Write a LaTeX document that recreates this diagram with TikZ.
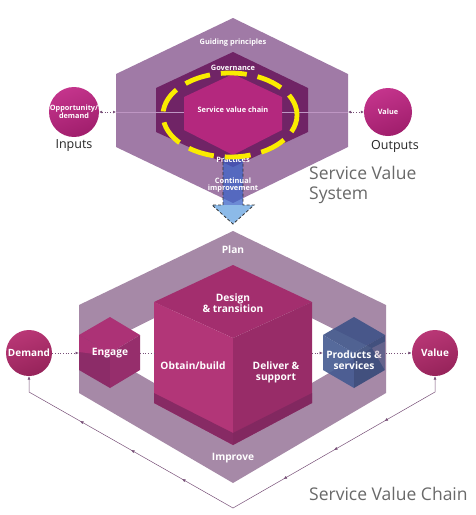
\documentclass[tikz,border=0pt]{standalone}
\usepackage{fontspec}
\setmainfont{Open Sans}
\usetikzlibrary{arrows.meta,decorations.markings}
\definecolor{hexOut}{RGB}{160,122,166}
\definecolor{hexMid}{RGB}{112,36,102}
\definecolor{hexIn}{RGB}{180,40,126}
\definecolor{circA}{RGB}{196,52,140}
\definecolor{circB}{RGB}{160,30,108}
\definecolor{circC}{RGB}{185,55,118}
\definecolor{circD}{RGB}{150,35,90}
\definecolor{ringC}{RGB}{166,137,167}
\definecolor{cubeTop}{RGB}{163,46,110}
\definecolor{cubeLeft}{RGB}{178,54,120}
\definecolor{cubeRight}{RGB}{152,44,104}
\definecolor{cubeBand}{RGB}{125,40,95}
\definecolor{engTop}{RGB}{172,50,118}
\definecolor{engLeft}{RGB}{140,44,104}
\definecolor{engRight}{RGB}{150,46,108}
\definecolor{prTop}{RGB}{62,82,135}
\definecolor{prLeft}{RGB}{68,90,145}
\definecolor{prRight}{RGB}{56,74,122}
\definecolor{shaftC}{RGB}{60,100,200}
\definecolor{headC}{RGB}{140,186,232}
\definecolor{yel}{RGB}{250,236,0}
\definecolor{conn}{RGB}{120,80,120}
\definecolor{greyT}{RGB}{105,105,105}
\definecolor{lineC}{RGB}{190,150,195}
\begin{document}
\begin{tikzpicture}[x=1pt,y=-1pt,
  lbl/.style={text=white,font=\bfseries\fontsize{10.2}{11}\selectfont,align=center,inner sep=0},
  slbl/.style={text=white,font=\bfseries\fontsize{7.4}{7.8}\selectfont,align=center,inner sep=0},
  tcirc/.style={circle,minimum size=48pt,inner sep=0,top color=circA,bottom color=circB,shading angle=20,
     text=white,font=\bfseries\fontsize{7.3}{7.8}\selectfont,align=center},
  bcirc/.style={circle,minimum size=46pt,inner sep=0,top color=circC,bottom color=circD,shading angle=20,
     text=white,font=\bfseries\fontsize{10}{11}\selectfont,align=center},
  io/.style={text=black!85,font=\fontsize{12.5}{13}\selectfont,inner sep=0},
  big/.style={text=greyT,font=\fontsize{17.5}{20}\selectfont,align=left,inner sep=0},
  dots/.style={conn,dotted,line width=0.7pt},
  tip/.style={-{Latex[length=3.5pt,width=3pt]}},
  fb/.style={conn,line width=0.5pt},
  marks/.style={postaction=decorate,decoration={markings,
     mark=at position 0.25 with {\arrow{Latex[length=3.5pt,width=3pt]}},
     mark=at position 0.5 with {\arrow{Latex[length=3.5pt,width=3pt]}},
     mark=at position 0.75 with {\arrow{Latex[length=3.5pt,width=3pt]}}}}
]
\useasboundingbox (0,0) rectangle (475,515);
\fill[white] (0,0) rectangle (475,515);

% ===== Service Value System =====
\fill[hexOut] (233,18) -- (348,74) -- (348,147) -- (233,203) -- (116,147) -- (116,74) -- cycle;
\fill[hexMid] (233,52) -- (308,88) -- (308,132) -- (233,167) -- (156,132) -- (156,88) -- cycle;
\fill[hexIn] (233,74) -- (282,97) -- (282,130) -- (233,155) -- (184,130) -- (184,97) -- cycle;
\coordinate (hexL) at (116,112);
\coordinate (hexR) at (348,112);
\draw[lineC,line width=0.8pt] (hexL) -- (184,112);
\draw[lineC,line width=0.8pt] (282,112) -- (hexR);

% blue arrow
\fill[shaftC,fill opacity=0.75] (223,157) rectangle (243,205);
\fill[headC] (212,205) -- (233,224) -- (254,205) -- cycle;
\draw[black!80,line width=0.8pt,dash pattern=on 3pt off 2pt] (223,157) -- (223,205) -- (212,205) -- (233,224) -- (254,205) -- (243,205) -- (243,157);

\node[slbl] (gp) at (233,43) {Guiding principles};
\node[slbl] (gov) at (233,68) {Governance};
\node[slbl] (svc) at (233,110) {Service value chain};
\node[slbl] (pr) at (233,160) {Practices};
\node[slbl,font=\bfseries\fontsize{7.4}{7.2}\selectfont] (ci) at (233,185) {Continual\\improvement};

% yellow ellipse
\draw[yel,line width=4.8pt,dash pattern=on 26pt off 11pt,dash phase=8pt] (230,115) ellipse [x radius=67, y radius=42];

\node[tcirc] (opp) at (74,112) {Opportunity/\\demand};
\node[tcirc] (val1) at (388,112) {Value};
\draw[dots,{Latex[length=3pt,width=3pt]}-{Latex[length=3pt,width=3pt]}] (opp.east) -- (hexL);
\draw[dots,{Latex[length=3pt,width=3pt]}-{Latex[length=3pt,width=3pt]}] (hexR) -- (val1.west);
\node[io] (inp) at (74,146) {Inputs};
\node[io] (outp) at (395,146) {Outputs};
\node[big,anchor=north west] (svs) at (309,166) {Service Value\\System};

% ===== Service Value Chain =====
\fill[ringC,even odd rule] (233,231) -- (386,305) -- (386,393) -- (233,483) -- (79,393) -- (79,305) -- cycle
   (233,279) -- (372,348) -- (233,429) -- (94,348) -- cycle;

% feedback loop
\node[bcirc] (dem) at (29,353) {Demand};
\node[bcirc] (val2) at (435,353) {Value};
\coordinate (vb) at (435,392);
\coordinate (bt) at (233,508);
\coordinate (db) at (29,392);
\draw[fb,{Latex[length=3.5pt,width=3pt]}-{Latex[length=3.5pt,width=3pt]}] (val2.south) -- (vb) -- (bt) -- (db) -- (dem.south);
\path[fb,marks] (vb) -- (bt);
\path[fb,marks] (bt) -- (db);

% big cube
\fill[cubeTop] (233,265) -- (312,302) -- (233,338) -- (154,302) -- cycle;
\fill[cubeLeft] (154,302) -- (233,338) -- (233,445) -- (154,403) -- cycle;
\fill[cubeRight] (233,338) -- (312,302) -- (312,403) -- (233,445) -- cycle;
\fill[cubeBand,fill opacity=0.8] (154,393) -- (233,433) -- (312,393) -- (312,403) -- (233,445) -- (154,403) -- cycle;

% engage cube
\fill[engTop] (110,317) -- (140,335) -- (110,353) -- (79,335) -- cycle;
\fill[engLeft] (79,335) -- (110,353) -- (110,388) -- (79,370) -- cycle;
\fill[engRight] (110,353) -- (140,335) -- (140,370) -- (110,388) -- cycle;
\fill[engTop] (79,335) -- (110,353) -- (110,356) -- (79,352) -- cycle;
% products cube
\begin{scope}[fill opacity=0.9]
\fill[prTop] (354,317) -- (385,335) -- (354,353) -- (323,335) -- cycle;
\fill[prLeft] (323,335) -- (354,353) -- (354,388) -- (323,370) -- cycle;
\fill[prRight] (354,353) -- (385,335) -- (385,370) -- (354,388) -- cycle;
\end{scope}

\coordinate (engL) at (79,353);
\coordinate (engR) at (140,353);
\coordinate (cubL) at (154,353);
\coordinate (cubR) at (312,353);
\coordinate (prL) at (323,353);
\coordinate (prR) at (386,353);
\draw[dots,tip] (dem.east) -- (engL);
\draw[dots] (engR) -- (cubL);
\draw[dots,tip] (cubR) -- (prL);
\draw[dots,tip] (prR) -- (val2.west);

\node[lbl] (plan) at (233,250) {Plan};
\node[lbl] (impr) at (233,458) {Improve};
\node[lbl] (dt) at (233,303) {Design\\\& transition};
\node[lbl] (ob) at (193,366) {Obtain/build};
\node[lbl] (ds) at (276,372) {Deliver \&\\support};
\node[lbl] (eng) at (110,353) {Engage};
\node[lbl] (ps) at (354,360) {Products \&\\services};
\fill[ringC,fill opacity=0.35] (372,348) -- (386,341) -- (386,372) -- cycle;
\node[big,anchor=west] (svch) at (309,494) {Service Value Chain};
\end{tikzpicture}
\end{document}
